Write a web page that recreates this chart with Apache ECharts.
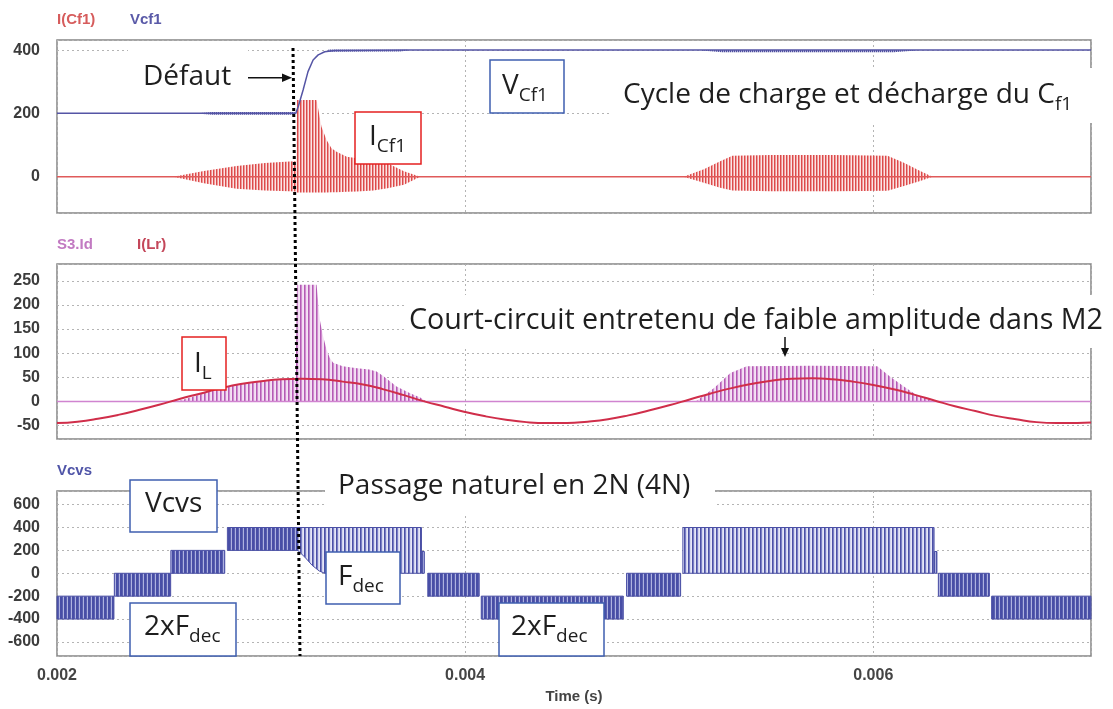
<!DOCTYPE html>
<html><head><meta charset="utf-8">
<script src="https://cdn.jsdelivr.net/npm/echarts@6/dist/echarts.min.js"></script>
<style>html,body{margin:0;padding:0;background:#fff}#c{width:1113px;height:709px}</style>
</head><body><div id="c"></div>
<script>
// ---------- DATA (time in ms) ----------
const X_RANGE = [2.0, 7.067];
const Y_RANGE_CF1 = [-115, 432];
const Y_RANGE_LR = [-78, 285];
const Y_RANGE_VCVS = [-723, 719];

// Vcf1 (V)
const VCF1 = [[2.0,200],[3.17,200],[3.182,221],[3.206,274],[3.23,332],[3.255,369],[3.28,385],[3.312,395],[3.36,399],[3.71,400],[7.067,400]];
// small switching ripple on Vcf1: rows [t, low, high]
const VCF1_RIPPLE = [
  [[2.70,199,201],[2.76,196,204],[3.165,196,204]],
  [[3.33,395,402],[3.68,396,401],[3.72,399,401]],
  [[5.16,399,400],[5.26,393,400],[6.10,393,400],[6.21,399,400]]
];
// I(Cf1) (A): baseline and switching bursts, rows [t, lowEnvelope, highEnvelope]
const ICF1_BASE = [[2.0,0],[7.067,0]];
const ICF1_BURSTS = [
  [[2.57,0,0],[2.72,-21,18],[2.88,-38,34],[3.02,-44,43],[3.14,-46,48],[3.172,-47,49],[3.176,-50,242],[3.272,-50,242],[3.296,-50,158],[3.321,-50,116],[3.345,-49,90],[3.37,-49,79],[3.42,-48,63],[3.47,-47,58],[3.55,-44,52],[3.62,-37,42],[3.70,-26,17],[3.78,0,0]],
  [[5.07,0,0],[5.17,-19,23],[5.25,-35,49],[5.31,-44,66],[5.50,-46,68],[5.80,-46,68],[6.07,-45,66],[6.15,-30,44],[6.23,-14,18],[6.29,0,0]]
];
// S3.Id (A)
const S3ID_BASE = [[2.0,0],[7.067,0]];
const S3ID_BURSTS = [
  [[2.59,0,0],[2.72,0,17],[2.88,0,35],[3.04,0,43],[3.17,0,47],[3.176,0,242],[3.272,0,242],[3.288,0,169],[3.304,0,135],[3.321,0,107],[3.337,0,90],[3.353,0,80],[3.40,0,73],[3.47,0,69],[3.53,0,66],[3.566,0,62],[3.60,0,52],[3.664,0,31],[3.73,0,17],[3.78,0,8],[3.81,0,0]],
  [[5.13,0,0],[5.22,0,28],[5.30,0,59],[5.38,0,73],[5.70,0,74],[6.02,0,73],[6.08,0,52],[6.15,0,31],[6.21,0,14],[6.30,0,0]]
];
// I(Lr) (A)
const ILR = [[2.0,-45],[2.1,-42],[2.2,-36],[2.3,-28],[2.4,-18],[2.5,-7],[2.6,5],[2.7,16],[2.8,27],[2.9,36],[3.0,42],[3.1,46],[3.2,47],[3.3,46],[3.4,41],[3.5,35],[3.6,25],[3.7,13],[3.8,0],[3.9,-11],[4.0,-22],[4.1,-31],[4.2,-38],[4.3,-43],[4.4,-45],[4.5,-45],[4.6,-42],[4.7,-37],[4.8,-29],[4.9,-19],[5.0,-8],[5.1,4],[5.2,16],[5.3,27],[5.4,36],[5.5,43],[5.6,47],[5.7,48],[5.8,46],[5.9,41],[6.0,34],[6.1,25],[6.2,14],[6.3,2],[6.4,-10],[6.5,-20],[6.6,-30],[6.7,-37],[6.8,-43],[6.9,-45],[7.0,-45],[7.067,-44]];
// Vcvs (V): PWM bands, rows [t, lowLevel, highLevel]
const VCVS_BANDS = [
  [[2.000,-400,-200],[2.279,-400,-200]],
  [[2.281,-200,0],[2.557,-200,0]],
  [[2.558,0,200],[2.822,0,200]],
  [[2.835,200,400],[3.180,200,400]],
  [[3.180,200,400],[3.215,140,400],[3.250,70,400],[3.285,20,400],[3.312,0,400]],
  [[3.312,0,400],[3.786,0,400]],
  [[3.788,0,190],[3.800,0,190]],
  [[3.817,-200,0],[4.069,-200,0]],
  [[4.079,-400,-200],[4.775,-400,-200]],
  [[4.791,-200,0],[5.056,-200,0]],
  [[5.067,0,400],[6.298,0,400]],
  [[6.300,0,190],[6.312,0,190]],
  [[6.319,-200,0],[6.569,-200,0]],
  [[6.580,-400,-200],[7.067,-400,-200]]
];

// ---------- STYLE ----------
function stripes(cols){
  const c=document.createElement('canvas'); c.width=cols.length; c.height=8;
  const g=c.getContext('2d');
  cols.forEach((col,i)=>{g.fillStyle=col; g.fillRect(i,0,1,8);});
  return {image:c, repeat:'repeat'};
}
const P_CF1 = stripes(['#dc4a4a','#ee9a9a','#fbe4e4']);
const P_S3 = stripes(['#b45ab4','#cf8ccf','#f1d9f1','#f4e2f4']);
const P_RIP = stripes(['#4e4e9e','#b8b8de']);
const P_VD = stripes(['#484ea6','#484ea6','#5a60b0','#aeb2e0']);
const P_VS = stripes(['#4b50a6','#7a7fc4','#d2d4ef','#e6e7f6']);

const AX_FONT = 'Liberation Sans, Arial, sans-serif';
const ANN_FONT = 'Open Sans, sans-serif';

function bandSeries(bands, grid, styleFor, z){
  return {
    type:'custom', xAxisIndex:grid, yAxisIndex:grid, z:z, silent:true,
    data: bands.map(b=>[b[0][0], b[0][1]]),
    encode:{x:0,y:1},
    renderItem:function(params, api){
      const b = bands[params.dataIndex];
      const pts=[];
      for(const r of b) pts.push(api.coord([r[0], r[2]]));
      for(let i=b.length-1;i>=0;i--) pts.push(api.coord([b[i][0], b[i][1]]));
      return {type:'polygon', shape:{points:pts}, style:styleFor(b)};
    }
  };
}

const grids = [
  {left:57, top:40, width:1034, height:173},
  {left:57, top:264, width:1034, height:175},
  {left:57, top:491, width:1034, height:165}
].map(g=>Object.assign(g,{show:true, borderColor:'#858585', borderWidth:1.5, backgroundColor:'transparent'}));

const splitStyle = {show:true, lineStyle:{color:'#b4b4b4', type:[2,3], width:1}};

function xAx(i){
  return {
    type:'value', gridIndex:i, min:X_RANGE[0], max:X_RANGE[1], splitNumber:3,
    axisLine:{show:false}, axisTick:{show:false}, splitLine:splitStyle,
    axisLabel:{show:i===2, showMinLabel:true, showMaxLabel:false, margin:12,
      formatter:v=>(v/1000).toFixed(3), color:'#444', fontSize:16, fontWeight:'bold', fontFamily:AX_FONT},
    name: i===2 ? 'Time (s)' : '', nameLocation:'middle', nameGap:33,
    nameTextStyle:{color:'#444', fontSize:15, fontWeight:'bold', fontFamily:AX_FONT}
  };
}
function yAx(i, range, split){
  return {
    type:'value', gridIndex:i, min:range[0], max:range[1], splitNumber:split,
    axisLine:{show:false}, axisTick:{show:false}, splitLine:splitStyle,
    axisLabel:{showMinLabel:false, showMaxLabel:false, margin:17, color:'#3c3c3c', fontSize:16, fontWeight:'bold', fontFamily:AX_FONT}
  };
}

function lineS(data, grid, color, width, z, smooth){
  return {type:'line', xAxisIndex:grid, yAxisIndex:grid, data:data, showSymbol:false, symbol:'none',
    smooth:smooth||false, z:z, silent:true, lineStyle:{color:color, width:width}};
}

const series = [
  bandSeries(ICF1_BURSTS, 0, ()=>({fill:P_CF1, stroke:null}), 2),
  lineS(ICF1_BASE, 0, '#e05a5a', 1.5, 3),
  bandSeries(VCF1_RIPPLE, 0, ()=>({fill:P_RIP, stroke:null}), 4),
  lineS(VCF1, 0, '#5555a5', 1.5, 4),
  bandSeries(S3ID_BURSTS, 1, ()=>({fill:P_S3, stroke:null}), 2),
  lineS(S3ID_BASE, 1, '#d084d0', 1.5, 3),
  lineS(ILR, 1, '#d02e4a', 2, 5, 0.5),
  bandSeries(VCVS_BANDS, 2, b=>{
    const span = Math.max(...b.map(r=>r[2]-r[1]));
    return {fill: span>200 ? P_VS : P_VD, stroke:'#4b50a6', lineWidth:1};
  }, 2)
];

// ---------- ANNOTATIONS ----------
function wbg(x,y,w,h){return {type:'rect', z:100, shape:{x:x,y:y,width:w,height:h}, style:{fill:'#fff'}};}
function box(x,y,w,h,c){return {type:'rect', z:101, shape:{x:x,y:y,width:w,height:h}, style:{fill:'#fff', stroke:c, lineWidth:1.5}};}
function ann(x,y,main,sub,fs){
  const text = sub ? '{m|'+main+'}{s|'+sub+'}' : '{m|'+main+'}';
  return {type:'text', z:102, x:x, y:y, style:{text:text, align:'left', verticalAlign:'middle',
    rich:{m:{fontSize:fs||28, lineHeight:38, fontFamily:ANN_FONT, fill:'#1e1e1e'},
          s:{fontSize:19, lineHeight:19, verticalAlign:'bottom', fontFamily:ANN_FONT, fill:'#1e1e1e'}}}};
}
function lbl(x,y,t,c){return {type:'text', z:102, x:x, y:y, style:{text:t, fill:c, font:'bold 15px '+AX_FONT, verticalAlign:'middle'}};}

const graphic = [
  lbl(57,20,'I(Cf1)','#d65c5c'), lbl(130,20,'Vcf1','#5a5aa8'),
  lbl(57,245,'S3.Id','#c27ac2'), lbl(137,245,'I(Lr)','#c4475a'),
  lbl(57,471,'Vcvs','#5055a8'),
  wbg(128,45,120,62), ann(143,77,'Défaut'),
  {type:'line', z:102, shape:{x1:248,y1:77.7,x2:284,y2:77.7}, style:{stroke:'#111', lineWidth:1.5}},
  {type:'polygon', z:102, shape:{points:[[292,77.7],[282,73.5],[282,82]]}, style:{fill:'#111'}},
  {type:'line', z:103, shape:{x1:293,y1:48,x2:300,y2:656}, style:{stroke:'#000', lineWidth:3, lineDash:[3,3]}},
  box(490,60,74,53,'#3f5fb0'), ann(502,86,'V','Cf1'),
  box(355,112,66,52,'#e52020'), ann(369,137,'I','Cf1'),
  wbg(612,68,481,55), ann(623,95,'Cycle de charge et décharge du C','f1'),
  box(182,337,44,53,'#e52020'), ann(194,364,'I','L'),
  wbg(405,295,700,53), ann(409,321,'Court-circuit entretenu de faible amplitude dans M2',null,28.7),
  {type:'line', z:102, shape:{x1:785,y1:337,x2:785,y2:349}, style:{stroke:'#111', lineWidth:1.5}},
  {type:'polygon', z:102, shape:{points:[[785,357],[781,348],[789,348]]}, style:{fill:'#111'}},
  wbg(325,466,390,47), ann(338,486,'Passage naturel en 2N (4N)'),
  box(130,480,87,52,'#3f5fb0'), ann(145,504,'Vcvs'),
  box(326,552,74,52,'#3f5fb0'), ann(338,577,'F','dec'),
  box(130,603,106,53,'#3f5fb0'), ann(144,627,'2xF','dec'),
  box(499,603,105,53,'#3f5fb0'), ann(511,627,'2xF','dec')
];

const chart = echarts.init(document.getElementById('c'), null, {renderer:'canvas'});
chart.setOption({
  animation:false, backgroundColor:'#fff',
  grid:grids,
  xAxis:[xAx(0),xAx(1),xAx(2)],
  yAxis:[yAx(0,Y_RANGE_CF1,3), yAx(1,Y_RANGE_LR,7), yAx(2,Y_RANGE_VCVS,7)],
  series:series,
  graphic:graphic
});
</script></body></html>
